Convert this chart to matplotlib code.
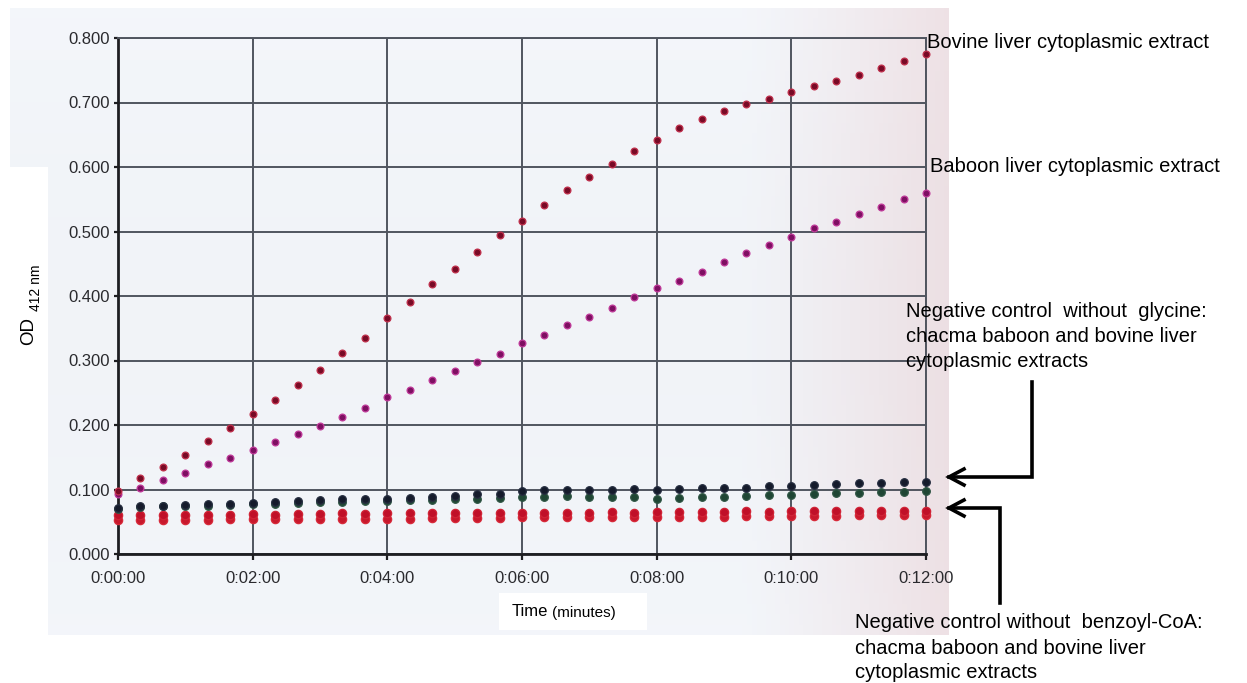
import numpy as np
import matplotlib
matplotlib.use("Agg")
import matplotlib.pyplot as plt
from matplotlib.lines import Line2D
from matplotlib.patches import Rectangle

plt.rcParams['font.family'] = ['Liberation Sans', 'DejaVu Sans']

# ---- data -------------------------------------------------------------
# readings every 20 s over 12 minutes
time_s = list(range(0, 721, 20))

bovine = [0.097, 0.118, 0.135, 0.154, 0.175, 0.195, 0.217, 0.238, 0.262, 0.286,
          0.312, 0.335, 0.366, 0.390, 0.418, 0.442, 0.468, 0.494, 0.517, 0.541,
          0.565, 0.585, 0.605, 0.625, 0.642, 0.660, 0.675, 0.687, 0.698, 0.705,
          0.716, 0.725, 0.734, 0.743, 0.753, 0.765, 0.775]

baboon = [0.093, 0.103, 0.114, 0.125, 0.139, 0.149, 0.162, 0.173, 0.186, 0.199,
          0.213, 0.226, 0.243, 0.254, 0.270, 0.283, 0.297, 0.310, 0.327, 0.340,
          0.355, 0.368, 0.381, 0.398, 0.412, 0.424, 0.437, 0.452, 0.466, 0.479,
          0.491, 0.505, 0.515, 0.527, 0.538, 0.550, 0.560]

no_glycine_a = [0.072, 0.074, 0.075, 0.076, 0.077, 0.078, 0.079, 0.080, 0.082, 0.083,
                0.085, 0.085, 0.086, 0.087, 0.088, 0.090, 0.093, 0.093, 0.097, 0.099,
                0.099, 0.100, 0.100, 0.101, 0.099, 0.101, 0.102, 0.102, 0.103, 0.105,
                0.105, 0.107, 0.108, 0.110, 0.110, 0.111, 0.112]

no_glycine_b = [0.070, 0.073, 0.074, 0.074, 0.075, 0.076, 0.077, 0.077, 0.079, 0.081,
                0.081, 0.082, 0.082, 0.083, 0.083, 0.085, 0.085, 0.087, 0.089, 0.089,
                0.090, 0.088, 0.089, 0.088, 0.086, 0.087, 0.089, 0.088, 0.090, 0.091,
                0.092, 0.093, 0.095, 0.095, 0.096, 0.096, 0.098]

no_bzcoa_a = [0.060, 0.060, 0.060, 0.061, 0.061, 0.061, 0.062, 0.061, 0.062, 0.062,
              0.063, 0.062, 0.063, 0.063, 0.063, 0.063, 0.064, 0.063, 0.064, 0.064,
              0.064, 0.064, 0.065, 0.064, 0.065, 0.065, 0.065, 0.065, 0.066, 0.065,
              0.066, 0.066, 0.066, 0.066, 0.067, 0.066, 0.067]

no_bzcoa_b = [0.052, 0.052, 0.053, 0.053, 0.053, 0.054, 0.054, 0.054, 0.054, 0.055,
              0.055, 0.055, 0.055, 0.055, 0.056, 0.056, 0.056, 0.056, 0.057, 0.057,
              0.057, 0.057, 0.057, 0.058, 0.058, 0.058, 0.058, 0.058, 0.059, 0.059,
              0.059, 0.059, 0.059, 0.060, 0.060, 0.060, 0.060]

x_ticks_min = [0, 2, 4, 6, 8, 10, 12]
x_tick_labels = ["0:00:00", "0:02:00", "0:04:00", "0:06:00", "0:08:00", "0:10:00", "0:12:00"]
y_ticks = [0.0, 0.1, 0.2, 0.3, 0.4, 0.5, 0.6, 0.7, 0.8]
y_tick_labels = ["0.000", "0.100", "0.200", "0.300", "0.400", "0.500", "0.600", "0.700", "0.800"]

# ---- figure -----------------------------------------------------------
W, H = 1247, 683
fig = plt.figure(figsize=(W / 100, H / 100), dpi=100)
fig.patch.set_facecolor("white")


def fx(px):
    return px / W


def fy(py):
    return 1 - py / H


# paper-coloured backdrop behind the plot
bg = fig.add_axes([fx(10), fy(635), fx(949) - fx(10), fy(8) - fy(635)], zorder=-10)
cols = np.linspace(0, 1, 200)
left_c = np.array([0.955, 0.965, 0.982])
right_c = np.array([0.935, 0.885, 0.900])
w = np.clip((cols - 0.78) / 0.22, 0, 1) ** 1.2
row = left_c[None, :] * (1 - w[:, None]) + right_c[None, :] * w[:, None]
rows = np.linspace(0, 1, 60)
img = np.repeat(row[None, :, :], 60, axis=0)
img = img * (1 - 0.01 * np.sin(rows * 3.0)[:, None, None])
bg.imshow(np.clip(img, 0, 1), aspect="auto", extent=[0, 1, 0, 1])
bg.axis("off")

# white label boxes
fig.add_artist(Rectangle((0, fy(635)), fx(48), fy(167) - fy(635),
                         transform=fig.transFigure, facecolor="white",
                         edgecolor="none", zorder=-5))
fig.add_artist(Rectangle((fx(499), fy(630)), fx(647) - fx(499), fy(593) - fy(630),
                         transform=fig.transFigure, facecolor="white",
                         edgecolor="none", zorder=-5))

ax = fig.add_axes([fx(118), fy(554), fx(926) - fx(118), fy(38) - fy(554)])
ax.set_facecolor("none")

t_min = np.array(time_s) / 60.0

series = [
    (no_bzcoa_b, "#c8182c", "#d82a3a", 36),
    (no_bzcoa_a, "#c01028", "#d02436", 36),
    (no_glycine_b, "#1f4634", "#2f5544", 30),
    (no_glycine_a, "#151b2b", "#262e40", 30),
    (baboon, "#7e0f62", "#c03a9a", 24),
    (bovine, "#780a26", "#c0304c", 24),
]
for vals, fc, ec, s in series:
    ax.scatter(t_min, vals, s=s, facecolor=fc, edgecolor=ec, linewidth=0.9,
               zorder=3, clip_on=False)

ax.set_xlim(0, 12)
ax.set_ylim(0, 0.8)
ax.set_xticks(x_ticks_min)
ax.set_xticklabels(x_tick_labels)
ax.set_yticks(y_ticks)
ax.set_yticklabels(y_tick_labels)

ax.grid(True, color="#50555f", linewidth=1.4, zorder=1)
ax.set_axisbelow(True)
for side in ("top", "right"):
    ax.spines[side].set_color("#50555f")
    ax.spines[side].set_linewidth(1.4)
for side in ("left", "bottom"):
    ax.spines[side].set_color("#1e1e22")
    ax.spines[side].set_linewidth(2.0)

ax.tick_params(axis="both", colors="#1e1e22", labelcolor="#2a2a2e",
               labelsize=12, width=1.6)
ax.tick_params(axis="y", length=3, pad=3)
ax.tick_params(axis="x", length=4, pad=8)

# axis titles
fig.text(fx(29), fy(331), "OD", rotation=90, fontsize=13.5, ha="center", va="center")
fig.text(fx(36), fy(288), "412 nm", rotation=90, fontsize=10, ha="center", va="center")
fig.text(fx(512), fy(612), "Time", fontsize=12, ha="left", va="center")
fig.text(fx(552), fy(613), "(minutes)", fontsize=11, ha="left", va="center")

# series annotations
ann = dict(fontsize=14.5, color="black", ha="left", va="center", linespacing=1.4)
fig.text(fx(927), fy(42), "Bovine liver cytoplasmic extract", **ann)
fig.text(fx(930), fy(167), "Baboon liver cytoplasmic extract", **ann)
fig.text(fx(906), fy(337),
         "Negative control  without  glycine:\nchacma baboon and bovine liver\ncytoplasmic extracts",
         **ann)
fig.text(fx(855), fy(648),
         "Negative control without  benzoyl-CoA:\nchacma baboon and bovine liver\ncytoplasmic extracts",
         **ann)


def bent_arrow(points, lw=2.6):
    xs = [fx(p[0]) for p in points]
    ys = [fy(p[1]) for p in points]
    fig.add_artist(Line2D(xs, ys, transform=fig.transFigure, color="black",
                          linewidth=lw, solid_joinstyle="miter"))
    tx, ty = points[-1]
    fig.add_artist(Line2D([fx(tx + 15), fx(tx), fx(tx + 15)],
                          [fy(ty - 8), fy(ty), fy(ty + 8)],
                          transform=fig.transFigure, color="black",
                          linewidth=lw, solid_joinstyle="miter"))


bent_arrow([(1032, 382), (1032, 477), (949, 477)])
bent_arrow([(1000, 603), (1000, 508), (949, 508)])

fig.savefig("out.png", dpi=100)
